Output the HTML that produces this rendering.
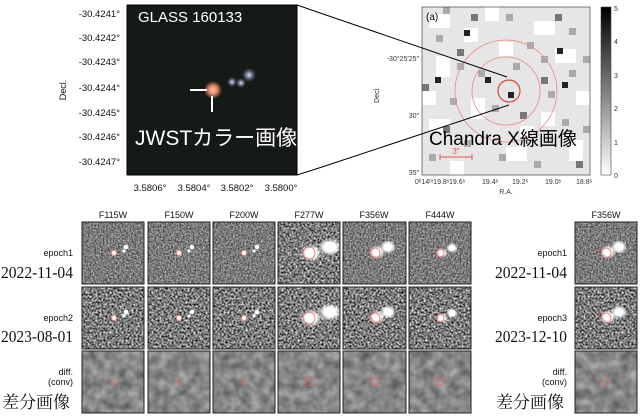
<!DOCTYPE html>
<html><head><meta charset="utf-8"><style>
html,body{margin:0;padding:0;background:#fff;width:640px;height:416px;overflow:hidden}
svg{display:block}
</style></head><body>
<svg width="640" height="416" viewBox="0 0 640 416" xmlns="http://www.w3.org/2000/svg" font-family="'Liberation Sans','Noto Sans CJK JP',sans-serif">
<defs>
<filter id="n1" x="0" y="0" width="100%" height="100%" color-interpolation-filters="sRGB"><feTurbulence type="fractalNoise" baseFrequency="0.6" numOctaves="2" seed="3"/><feColorMatrix type="matrix" values="0.9 0 0 0 0.03  0.9 0 0 0 0.03  0.9 0 0 0 0.03  0 0 0 0 1"/></filter>
<filter id="n2" x="0" y="0" width="100%" height="100%" color-interpolation-filters="sRGB"><feTurbulence type="fractalNoise" baseFrequency="0.5" numOctaves="2" seed="7"/><feColorMatrix type="matrix" values="1.5 0 0 0 -0.27  1.5 0 0 0 -0.27  1.5 0 0 0 -0.27  0 0 0 0 1"/></filter>
<filter id="n3" x="0" y="0" width="100%" height="100%" color-interpolation-filters="sRGB"><feTurbulence type="fractalNoise" baseFrequency="0.1" numOctaves="2" seed="5"/><feColorMatrix type="matrix" values="0.45 0 0 0 0.3  0.45 0 0 0 0.3  0.45 0 0 0 0.3  0 0 0 0 1"/></filter>
<radialGradient id="glow"><stop offset="0" stop-color="#fff"/><stop offset="0.5" stop-color="#fff"/><stop offset="1" stop-color="#fff" stop-opacity="0"/></radialGradient>
<radialGradient id="rg"><stop offset="0" stop-color="#ffcfb0"/><stop offset="0.5" stop-color="#e08060"/><stop offset="1" stop-color="#e08060" stop-opacity="0"/></radialGradient>
<radialGradient id="bg"><stop offset="0" stop-color="#dde4ff"/><stop offset="1" stop-color="#8090c0" stop-opacity="0"/></radialGradient>
<linearGradient id="cb" x1="0" y1="0" x2="0" y2="1"><stop offset="0" stop-color="#000"/><stop offset="1" stop-color="#fff"/></linearGradient>
</defs>

<rect x="127" y="5" width="170" height="170" fill="#161a17"/>
<circle cx="213" cy="90" r="9" fill="url(#rg)"/>
<circle cx="232" cy="82" r="5" fill="url(#bg)"/>
<circle cx="241" cy="83" r="5" fill="url(#bg)"/>
<circle cx="249" cy="75" r="7" fill="url(#bg)"/>
<line x1="190" y1="90" x2="207" y2="90" stroke="#fff" stroke-width="2"/>
<line x1="212" y1="96" x2="212" y2="112" stroke="#fff" stroke-width="2"/>
<text x="138" y="22" font-size="15" fill="#fff">GLASS 160133</text>
<text x="135" y="145" font-size="21" fill="#fff">JWSTカラー画像</text>
<rect x="127" y="5" width="170" height="170" fill="none" stroke="#000" stroke-width="1"/>
<g font-size="9.5" fill="#111" text-anchor="end">
<text x="120" y="17">-30.4241°</text><text x="120" y="41">-30.4242°</text><text x="120" y="65">-30.4243°</text><text x="120" y="91">-30.4244°</text><text x="120" y="116">-30.4245°</text><text x="120" y="140">-30.4246°</text><text x="120" y="165">-30.4247°</text>
</g>
<text x="66" y="90" font-size="9" fill="#111" transform="rotate(-90 66 90)" text-anchor="middle">Decl.</text>
<g font-size="9.5" fill="#111" text-anchor="middle">
<text x="150" y="191">3.5806°</text><text x="194" y="191">3.5804°</text><text x="237" y="191">3.5802°</text><text x="281" y="191">3.5800°</text>
</g>
<line x1="297" y1="5" x2="323" y2="14" stroke="#000"/>
<line x1="297" y1="175" x2="322" y2="167" stroke="#000"/>

<rect x="422" y="7" width="168" height="168" fill="#e6e6e6"/>
<g fill="#fff">
<rect x="429" y="14" width="21" height="14"/><rect x="464" y="28" width="14" height="14"/><rect x="534" y="21" width="21" height="14"/><rect x="436" y="56" width="14" height="21"/><rect x="555" y="49" width="21" height="14"/><rect x="499" y="42" width="14" height="14"/><rect x="429" y="119" width="21" height="14"/><rect x="471" y="98" width="14" height="21"/><rect x="541" y="112" width="14" height="14"/><rect x="506" y="147" width="21" height="14"/><rect x="569" y="140" width="14" height="21"/><rect x="450" y="161" width="14" height="14"/><rect x="576" y="91" width="14" height="14"/><rect x="485" y="7" width="14" height="14"/><rect x="520" y="126" width="14" height="14"/><rect x="422" y="91" width="14" height="14"/>
</g>
<g fill="#aaa">
<rect x="443" y="7" width="7" height="7"/><rect x="506" y="14" width="7" height="7"/><rect x="457" y="63" width="7" height="7"/><rect x="478" y="70" width="7" height="7"/><rect x="548" y="91" width="7" height="7"/><rect x="569" y="70" width="7" height="7"/><rect x="527" y="42" width="7" height="7"/><rect x="429" y="154" width="7" height="7"/><rect x="499" y="154" width="7" height="7"/><rect x="569" y="28" width="7" height="7"/><rect x="541" y="56" width="7" height="7"/><rect x="562" y="119" width="7" height="7"/><rect x="436" y="35" width="7" height="7"/><rect x="583" y="56" width="7" height="7"/><rect x="464" y="140" width="7" height="7"/><rect x="534" y="161" width="7" height="7"/><rect x="492" y="105" width="7" height="7"/><rect x="450" y="98" width="7" height="7"/><rect x="583" y="126" width="7" height="7"/><rect x="513" y="63" width="7" height="7"/>
</g>
<g fill="#777">
<rect x="471" y="14" width="7" height="7"/><rect x="555" y="14" width="7" height="7"/><rect x="422" y="84" width="7" height="7"/><rect x="457" y="49" width="7" height="7"/><rect x="520" y="112" width="7" height="7"/><rect x="576" y="161" width="7" height="7"/><rect x="443" y="126" width="7" height="7"/><rect x="541" y="77" width="7" height="7"/>
</g>
<g fill="#222">
<rect x="464" y="30" width="6" height="6"/><rect x="435" y="77" width="6" height="6"/><rect x="485" y="77" width="6" height="6"/><rect x="562" y="82" width="6" height="6"/><rect x="557" y="48" width="6" height="6"/><rect x="508" y="92" width="6" height="6"/>
</g>
<circle cx="506" cy="91" r="51" fill="none" stroke="#e88" stroke-width="0.8"/>
<circle cx="506" cy="91" r="34" fill="none" stroke="#e88" stroke-width="0.8"/>
<circle cx="509" cy="91" r="11" fill="none" stroke="#d44" stroke-width="1.2"/>
<line x1="440" y1="157" x2="472" y2="157" stroke="#e55"/>
<line x1="440" y1="154" x2="440" y2="160" stroke="#e55"/><line x1="472" y1="154" x2="472" y2="160" stroke="#e55"/>
<text x="456" y="154" font-size="8" fill="#e55" text-anchor="middle">3"</text>
<text x="426" y="20" font-size="10" fill="#000">(a)</text>
<text x="429" y="145" font-size="19" fill="#000">Chandra X線画像</text>
<rect x="422" y="7" width="168" height="168" fill="none" stroke="#444" stroke-width="0.7"/>
<line x1="323" y1="14" x2="507" y2="77" stroke="#000"/>
<line x1="322" y1="167" x2="509" y2="105" stroke="#000"/>
<g font-size="7" fill="#333" text-anchor="end">
<text x="419" y="61">-30°25′25″</text><text x="419" y="118">30″</text><text x="419" y="175">35″</text>
</g>
<text x="379" y="95" font-size="7" fill="#333" transform="rotate(-90 379 95)" text-anchor="middle">Decl.</text>
<g font-size="7" fill="#333" text-anchor="middle">
<text x="432" y="184">0ʰ14ᵐ19.8ˢ</text><text x="457" y="184">19.6ˢ</text><text x="490" y="184">19.4ˢ</text><text x="520" y="184">19.2ˢ</text><text x="553" y="184">19.0ˢ</text><text x="584" y="184">18.8ˢ</text>
<text x="506" y="194">R.A.</text>
</g>
<rect x="601" y="7" width="10" height="168" fill="url(#cb)" stroke="#444" stroke-width="0.6"/>
<g font-size="7" fill="#333"><text x="614" y="11">5</text><text x="614" y="44">4</text><text x="614" y="78">3</text><text x="614" y="111">2</text><text x="614" y="145">1</text><text x="614" y="178">0</text></g>

<g font-size="9" fill="#111" text-anchor="middle">
<text x="113" y="218">F115W</text><text x="179" y="218">F150W</text><text x="244" y="218">F200W</text><text x="309" y="218">F277W</text><text x="374" y="218">F356W</text><text x="440" y="218">F444W</text><text x="606" y="218">F356W</text>
</g>
<g>
<rect x="82" y="222" width="62" height="62" filter="url(#n1)"/>
<rect x="148" y="222" width="62" height="62" filter="url(#n1)"/>
<rect x="213" y="222" width="62" height="62" filter="url(#n1)"/>
<rect x="278" y="222" width="62" height="62" filter="url(#n2)"/>
<rect x="343" y="222" width="63" height="62" filter="url(#n1)"/>
<rect x="409" y="222" width="62" height="62" filter="url(#n1)"/>
<rect x="575" y="222" width="62" height="62" filter="url(#n1)"/>
<rect x="82" y="287" width="62" height="62" filter="url(#n2)"/>
<rect x="148" y="287" width="62" height="62" filter="url(#n2)"/>
<rect x="213" y="287" width="62" height="62" filter="url(#n2)"/>
<rect x="278" y="287" width="62" height="62" filter="url(#n2)"/>
<rect x="343" y="287" width="63" height="62" filter="url(#n2)"/>
<rect x="409" y="287" width="62" height="62" filter="url(#n2)"/>
<rect x="575" y="287" width="62" height="62" filter="url(#n2)"/>
<rect x="82" y="351" width="62" height="62" filter="url(#n3)"/>
<rect x="148" y="351" width="62" height="62" filter="url(#n3)"/>
<rect x="213" y="351" width="62" height="62" filter="url(#n3)"/>
<rect x="278" y="351" width="62" height="62" filter="url(#n3)"/>
<rect x="343" y="351" width="63" height="62" filter="url(#n3)"/>
<rect x="409" y="351" width="62" height="62" filter="url(#n3)"/>
<rect x="575" y="351" width="62" height="62" filter="url(#n3)"/>
</g>
<g fill="#fff">
<circle cx="114" cy="253" r="3"/><circle cx="124" cy="251" r="1.6"/><circle cx="126" cy="247" r="2.3"/>
<circle cx="179" cy="253" r="3"/><circle cx="189" cy="251" r="1.6"/><circle cx="192" cy="247" r="2.3"/>
<circle cx="244" cy="253" r="3"/><circle cx="254" cy="251" r="1.6"/><circle cx="257" cy="247" r="2.3"/>
<circle cx="114" cy="318" r="3"/><circle cx="124" cy="316" r="1.6"/><circle cx="126" cy="312" r="2.3"/>
<circle cx="179" cy="318" r="3"/><circle cx="189" cy="316" r="1.6"/><circle cx="192" cy="312" r="2.3"/>
<circle cx="244" cy="318" r="3"/><circle cx="254" cy="316" r="1.6"/><circle cx="257" cy="312" r="2.3"/>
</g>
<g fill="url(#glow)">
<ellipse cx="311" cy="253" rx="11" ry="9"/><ellipse cx="330" cy="247" rx="12" ry="9"/>
<ellipse cx="377" cy="252" rx="8" ry="7"/><ellipse cx="388" cy="247" rx="8" ry="7"/>
<ellipse cx="442" cy="253" rx="6" ry="5"/><ellipse cx="452" cy="248" rx="6" ry="5"/>
<ellipse cx="608" cy="252" rx="8" ry="7"/><ellipse cx="619" cy="247" rx="8" ry="7"/>
<ellipse cx="311" cy="318" rx="11" ry="9"/><ellipse cx="330" cy="312" rx="12" ry="9"/>
<ellipse cx="377" cy="317" rx="8" ry="7"/><ellipse cx="388" cy="312" rx="8" ry="7"/>
<ellipse cx="442" cy="318" rx="6" ry="5"/><ellipse cx="452" cy="313" rx="6" ry="5"/>
<ellipse cx="608" cy="317" rx="8" ry="7"/><ellipse cx="619" cy="312" rx="8" ry="7"/>
</g>
<g fill="none" stroke="#e66" stroke-width="0.8">
<circle cx="114" cy="253" r="2.5"/><circle cx="179" cy="253" r="2.5"/><circle cx="244" cy="253" r="2.5"/>
<circle cx="309" cy="253" r="6"/><circle cx="375" cy="253" r="5"/><circle cx="440" cy="253" r="4"/><circle cx="606" cy="253" r="5"/>
<circle cx="114" cy="318" r="2.5"/><circle cx="179" cy="318" r="2.5"/><circle cx="244" cy="318" r="2.5"/>
<circle cx="309" cy="318" r="6"/><circle cx="375" cy="318" r="5"/><circle cx="440" cy="318" r="4"/><circle cx="606" cy="318" r="5"/>
<circle cx="114" cy="382" r="2.5"/><circle cx="179" cy="382" r="2.5"/><circle cx="244" cy="382" r="2.5"/>
<circle cx="309" cy="382" r="4"/><circle cx="375" cy="382" r="4"/><circle cx="440" cy="382" r="4"/><circle cx="606" cy="382" r="4"/>
</g>
<g fill="none" stroke="#222" stroke-width="1">
<rect x="82" y="222" width="62" height="62"/><rect x="148" y="222" width="62" height="62"/><rect x="213" y="222" width="62" height="62"/><rect x="278" y="222" width="62" height="62"/><rect x="343" y="222" width="63" height="62"/><rect x="409" y="222" width="62" height="62"/><rect x="575" y="222" width="62" height="62"/>
<rect x="82" y="287" width="62" height="62"/><rect x="148" y="287" width="62" height="62"/><rect x="213" y="287" width="62" height="62"/><rect x="278" y="287" width="62" height="62"/><rect x="343" y="287" width="63" height="62"/><rect x="409" y="287" width="62" height="62"/><rect x="575" y="287" width="62" height="62"/>
<rect x="82" y="351" width="62" height="62"/><rect x="148" y="351" width="62" height="62"/><rect x="213" y="351" width="62" height="62"/><rect x="278" y="351" width="62" height="62"/><rect x="343" y="351" width="63" height="62"/><rect x="409" y="351" width="62" height="62"/><rect x="575" y="351" width="62" height="62"/>
</g>

<g text-anchor="end" fill="#111">
<text x="73" y="256" font-size="9">epoch1</text>
<text x="73" y="278" font-size="17" font-family="'Liberation Serif',serif" textLength="72" lengthAdjust="spacingAndGlyphs">2022-11-04</text>
<text x="73" y="321" font-size="9">epoch2</text>
<text x="73" y="342" font-size="17" font-family="'Liberation Serif',serif" textLength="72" lengthAdjust="spacingAndGlyphs">2023-08-01</text>
<text x="73" y="375" font-size="9">diff.</text>
<text x="73" y="385" font-size="9">(conv)</text>
<text x="70" y="408" font-size="17" font-family="'Noto Serif CJK SC',serif">差分画像</text>
<text x="567" y="256" font-size="9">epoch1</text>
<text x="567" y="278" font-size="17" font-family="'Liberation Serif',serif" textLength="72" lengthAdjust="spacingAndGlyphs">2022-11-04</text>
<text x="567" y="321" font-size="9">epoch3</text>
<text x="567" y="342" font-size="17" font-family="'Liberation Serif',serif" textLength="72" lengthAdjust="spacingAndGlyphs">2023-12-10</text>
<text x="567" y="375" font-size="9">diff.</text>
<text x="567" y="385" font-size="9">(conv)</text>
<text x="564" y="408" font-size="17" font-family="'Noto Serif CJK SC',serif">差分画像</text>
</g>
</svg>
</body></html>
